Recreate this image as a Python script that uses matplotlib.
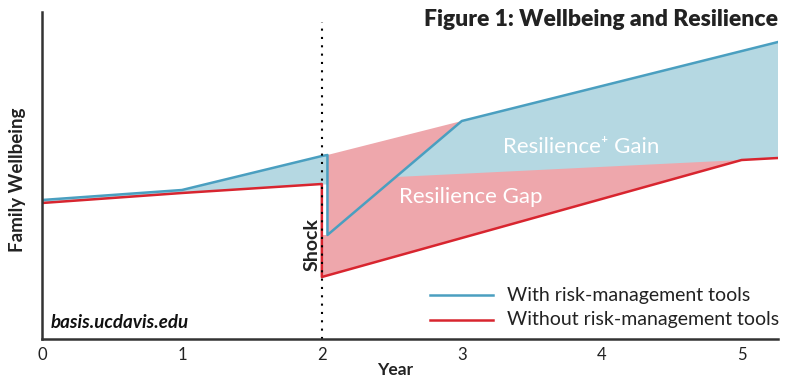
import matplotlib.pyplot as plt
import numpy as np

# Données (unités arbitraires de bien-être)
annees_avec = [0, 1, 2, 2.04, 2.04, 3, 5.26]
bien_etre_avec = [139, 149, 183, 184, 104, 218, 297]

annees_sans = [0, 1, 2, 2, 5, 5.26]
bien_etre_sans = [136, 146, 155, 62, 179, 181]

# Zone avant le choc
annees_avant = [0, 1, 2, 2.04]
avant_haut = [139, 149, 183, 184]
avant_bas = [136, 146, 155, 155]

# Polygone "Resilience Gap"
gap_x = [2.0, 2.0, 2.04, 2.04, 3, 5, 2.0]
gap_y = [62, 104, 104, 184, 218, 179, 62]

# Polygone "Resilience+ Gain"
gain_x = [2.53, 3, 5.26, 5.26, 5]
gain_y = [162, 218, 297, 181, 179]

BLEU = '#4a9fc0'
ROUGE = '#d8252f'
BLEU_CLAIR = '#b5d8e2'
ROSE = '#eea7ac'

plt.rcParams['font.family'] = ['Lato', 'DejaVu Sans']

fig = plt.figure(figsize=(8, 3.87), dpi=100)
ax = fig.add_axes([42/800, 48/387, 736/800, 327/387])

ax.fill_between(annees_avant, avant_bas, avant_haut, color=BLEU_CLAIR, lw=0)
ax.fill(gap_x, gap_y, color=ROSE, lw=0)
ax.fill(gain_x, gain_y, color=BLEU_CLAIR, lw=0)

ax.plot(annees_sans, bien_etre_sans, color=ROUGE, lw=1.8)
ax.plot(annees_avec, bien_etre_avec, color=BLEU, lw=1.8)

# Ligne du choc
ax.plot([2, 2], [0, 317], color='black', lw=1.5, ls=(0, (1, 3)))

ax.set_xlim(0, 5.26)
ax.set_ylim(0, 327)
ax.set_xticks([0, 1, 2, 3, 4, 5])
ax.set_xticklabels(['0', '1', '2', '3', '4', '5'], fontsize=12, color='#222222')
ax.set_yticks([])
ax.tick_params(axis='x', length=0, pad=6)
for s in ['top', 'right']:
    ax.spines[s].set_visible(False)
for s in ['left', 'bottom']:
    ax.spines[s].set_linewidth(1.8)
    ax.spines[s].set_color('#333333')

ax.set_xlabel('Year', fontsize=12.5, fontweight='bold', color='#222222')
ax.xaxis.set_label_coords(0.48, -0.07)
ax.set_ylabel('Family Wellbeing', fontsize=13.5, fontweight='bold', color='#222222')
ax.yaxis.set_label_coords(-0.022, 0.486)

fig.text(778/800, 1 - 20/387, 'Figure 1: Wellbeing and Resilience', ha='right', va='center',
         fontsize=16.5, fontweight='heavy', color='#222222')
ax.text(1.93, 94, 'Shock', rotation=90, ha='center', va='center', fontsize=14,
        fontweight='bold', color='#222222')
ax.text(0.06, 17, 'basis.ucdavis.edu', fontsize=13.5, fontweight='bold', style='italic',
        color='#111111', va='center')
ax.text(3.85, 192, 'Resilience\u207a Gain', ha='center', va='center', fontsize=16, color='white')
ax.text(2.55, 142, 'Resilience Gap', ha='left', va='center', fontsize=16, color='white')

# Légende dessinée à la main
ax.plot([2.77, 3.22], [44, 44], color=BLEU, lw=1.8)
ax.plot([2.77, 3.22], [19, 19], color=ROUGE, lw=1.8)
ax.text(3.32, 44, 'With risk-management tools', va='center', fontsize=14, color='#222222')
ax.text(3.32, 19, 'Without risk-management tools', va='center', fontsize=14, color='#222222')

fig.savefig('out.png', dpi=100)
